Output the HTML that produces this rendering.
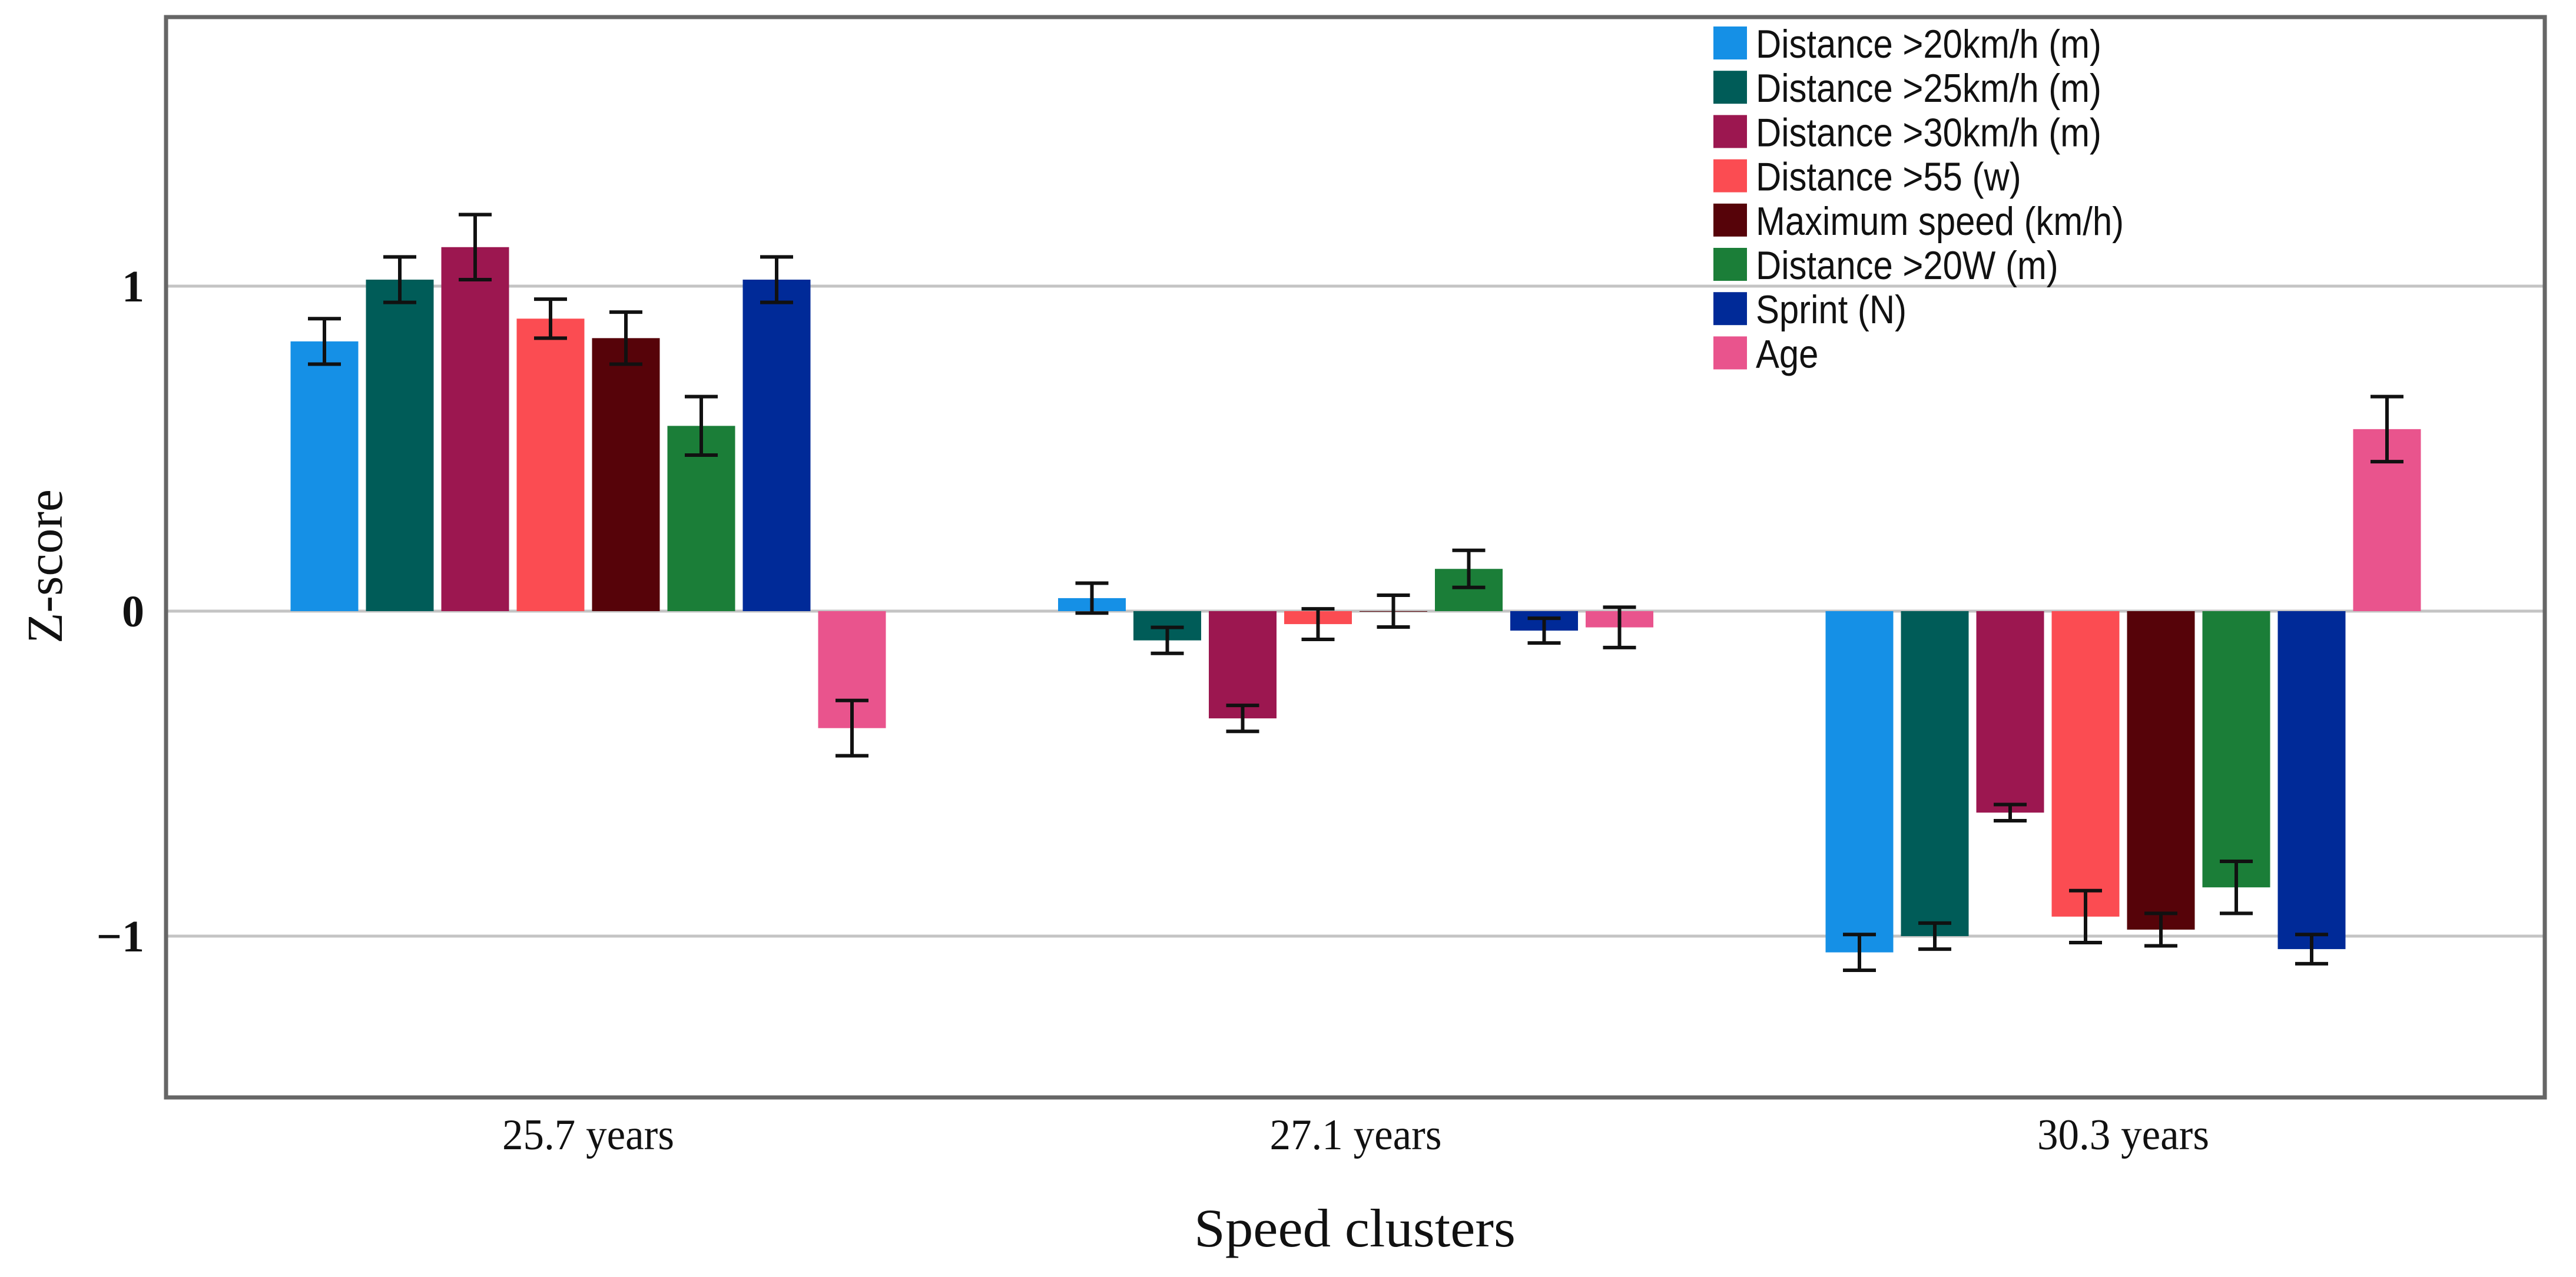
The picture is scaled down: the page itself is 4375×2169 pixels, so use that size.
<!DOCTYPE html>
<html><head><meta charset="utf-8"><style>
html,body{margin:0;padding:0;background:#fff;}
svg{display:block;}
</style></head><body>
<svg id="chart" width="4375" height="2169" viewBox="0 0 4375 2169" xmlns="http://www.w3.org/2000/svg">
<rect x="0" y="0" width="4375" height="2169" fill="#fff"/>
<g id="grid"></g>
<g id="bars"></g>
<g id="errs"></g>
<rect x="282" y="29" width="4040" height="1835" fill="none" stroke="#666" stroke-width="7"/>
<g id="yticks" font-family="'Liberation Serif', serif" font-size="76" font-weight="bold" fill="#111" text-anchor="end"></g>
<g id="xticks" font-family="'Liberation Serif', serif" font-size="74" fill="#111" text-anchor="middle"></g>
<text x="105" y="962" transform="rotate(-90 105 962)" text-anchor="middle" font-family="'Liberation Serif', serif" font-size="86" fill="#111" textLength="262" lengthAdjust="spacingAndGlyphs">Z-score</text>
<text x="2301" y="2117" text-anchor="middle" font-family="'Liberation Serif', serif" font-size="92" fill="#111" textLength="546" lengthAdjust="spacingAndGlyphs">Speed clusters</text>
<g id="legend" font-family="'Liberation Sans', sans-serif" font-size="68" fill="#111"></g>
</svg>
<script>
const categories = ["25.7 years", "27.1 years", "30.3 years"];
const seriesNames = ["Distance >20km/h (m)", "Distance >25km/h (m)", "Distance >30km/h (m)", "Distance >55 (w)", "Maximum speed (km/h)", "Distance >20W (m)", "Sprint (N)", "Age"];
const seriesColors = ["#1590e6", "#005c58", "#9c1750", "#fb4c52", "#560309", "#1b7e38", "#002a98", "#e9548d"];
const values = [
  [0.83, 1.02, 1.12, 0.90, 0.84, 0.57, 1.02, -0.36],
  [0.04, -0.09, -0.33, -0.04, 0.00, 0.13, -0.06, -0.05],
  [-1.05, -1.00, -0.62, -0.94, -0.98, -0.85, -1.04, 0.56]
];
const errors = [
  [0.07, 0.07, 0.10, 0.06, 0.08, 0.09, 0.07, 0.085],
  [0.046, 0.04, 0.04, 0.047, 0.049, 0.057, 0.038, 0.062],
  [0.055, 0.04, 0.025, 0.08, 0.05, 0.08, 0.045, 0.10]
];
const yTicks = [1, 0, -1];
const yTickLabels = ["1", "0", "\u22121"];

const NS = "http://www.w3.org/2000/svg";
const zeroY = 1038, unit = 552;
function yScale(v){ return zeroY - v*unit; }
const groupStart = 999, groupStep = 1303.5, barPitch = 128, barW = 115;
function xGroup(i){ return groupStart + i*groupStep; }
function xBar(g, s){ return xGroup(g) + (s - (seriesNames.length-1)/2)*barPitch; }
function mk(tag, attrs, parent){ const e=document.createElementNS(NS,tag); for(const k in attrs) e.setAttribute(k, attrs[k]); parent.appendChild(e); return e; }

const grid=document.getElementById('grid'), yt=document.getElementById('yticks');
yTicks.forEach((t,i)=>{
  const l=mk('line',{x1:285,x2:4319,y1:yScale(t),y2:yScale(t),stroke:'#c4c4c4','stroke-width':5},grid);
  
  
  const tx=mk('text',{x:245,y:yScale(t)+26},yt);
  tx.textContent=yTickLabels[i];
  
  
});
const xt=document.getElementById('xticks');
categories.forEach((c,i)=>{
  const tx=mk('text',{x:xGroup(i),y:1952,textLength:292,lengthAdjust:'spacingAndGlyphs'},xt);
  tx.textContent=c;
  
  
});
const bars=document.getElementById('bars'), errs=document.getElementById('errs');
values.forEach((row,g)=>{
  row.forEach((v,s)=>{
    const cx=xBar(g,s), y0=yScale(0), y1=yScale(v);
    const r=mk('rect',{x:cx-barW/2,y:Math.min(y0,y1),width:barW,height:Math.max(1,Math.abs(y1-y0)),fill:seriesColors[s]},bars);
    
    
    const e=errors[g][s], ya=yScale(v+e), yb=yScale(v-e);
    const eg=mk('g',{stroke:'#111','stroke-width':6},errs);
    
    
    mk('line',{x1:cx,x2:cx,y1:ya,y2:yb},eg);
    mk('line',{x1:cx-28,x2:cx+28,y1:ya,y2:ya},eg);
    mk('line',{x1:cx-28,x2:cx+28,y1:yb,y2:yb},eg);
  });
});
const lg=document.getElementById('legend');
seriesNames.forEach((n,i)=>{
  const y=45+i*75.2;
  const item=mk('g',{},lg);
  
  
  mk('rect',{x:2910,y:y,width:57,height:56,fill:seriesColors[i]},item);
  const t=mk('text',{x:2982,y:y+53,transform:'translate(2982 0) scale(0.88 1) translate(-2982 0)'},item);
  t.textContent=n;
});
</script>
</body></html>
